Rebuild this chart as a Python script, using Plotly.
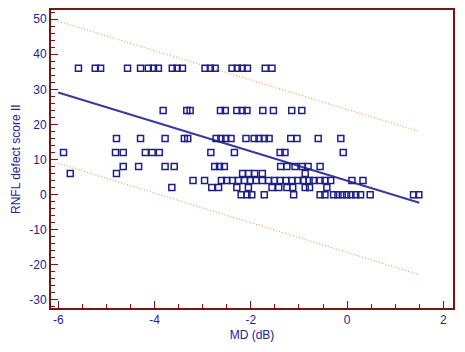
import plotly.graph_objects as go

# Data rows (RNFL defect score levels) with MD values
md_36 = [-5.58, -5.23, -5.12, -4.56, -4.29, -4.13, -4.02, -3.92, -3.63, -3.53, -3.42,
         -2.95, -2.84, -2.74, -2.39, -2.28, -2.18, -2.07, -1.70, -1.56]
md_24 = [-3.82, -3.33, -3.26, -2.63, -2.53, -2.29, -2.18, -2.08, -1.75, -1.53, -1.15, -0.94]
md_16 = [-4.79, -4.29, -3.78, -3.38, -3.31, -2.72, -2.62, -2.52, -2.41, -2.10, -1.93,
         -1.83, -1.72, -1.62, -1.17, -1.04, -0.60, -0.13]
md_12 = [-5.89, -4.81, -4.65, -4.19, -4.05, -3.90, -2.83, -2.34, -1.39, -1.29, -0.08]
md_8 = [-4.65, -4.33, -3.78, -3.59, -2.75, -2.65, -2.55, -1.38, -1.25, -1.08, -0.93, -0.81, -0.56]
md_6 = [-5.75, -4.79, -2.17, -2.05, -1.92, -1.76, -0.87]
md_4 = [-3.20, -2.96, -2.61, -2.50, -2.38, -2.26, -2.13, -2.01, -1.89, -1.76, -1.63, -1.51,
        -1.39, -1.27, -1.15, -1.02, -0.91, -0.79, -0.70, -0.56, -0.46, -0.34, 0.10, 0.33]
md_2 = [-3.64, -2.81, -2.67, -2.29, -2.05, -1.56, -1.42, -1.25, -1.13, -0.87, -0.78, -0.42]
md_0 = [-2.20, -2.08, -1.98, -1.72, -1.11, -0.56, -0.46, -0.28, -0.19, -0.10, -0.01, 0.08,
        0.18, 0.28, 0.48, 1.38, 1.49]

rows = [(36, md_36), (24, md_24), (16, md_16), (12, md_12), (8, md_8),
        (6, md_6), (4, md_4), (2, md_2), (0, md_0)]

# Regression line and prediction bounds
reg_x = [-6.0, 1.5]
reg_y = [29.1, -2.3]
upper_y = [49.4, 18.0]
lower_y = [8.9, -22.8]

x_tickvals = [-6, -4, -2, 0, 2]
x_ticktext = ["-6", "-4", "-2", "0", "2"]
y_tickvals = [-30, -20, -10, 0, 10, 20, 30, 40, 50]
y_ticktext = ["-30", "-20", "-10", "0", "10", "20", "30", "40", "50"]

xs, ys = [], []
for score, mds in rows:
    xs += mds
    ys += [score] * len(mds)

NAVY = "#1f1f85"
MAROON = "#7a1515"
TICKFONT = dict(family="Liberation Sans, Arial, sans-serif", size=12, color="#23238f")

fig = go.Figure()
fig.add_trace(go.Scatter(x=reg_x, y=upper_y, mode="lines",
                         line=dict(color="#f0a05a", width=1.2, dash="1px,2px"), hoverinfo="skip"))
fig.add_trace(go.Scatter(x=reg_x, y=lower_y, mode="lines",
                         line=dict(color="#f0a05a", width=1.2, dash="1px,2px"), hoverinfo="skip"))
fig.add_trace(go.Scatter(x=reg_x, y=reg_y, mode="lines",
                         line=dict(color="#3a3a9a", width=2)))
fig.add_trace(go.Scatter(x=xs, y=ys, mode="markers",
                         marker=dict(symbol="square-open", size=6, color=NAVY,
                                     line=dict(width=1.5, color=NAVY))))

fig.update_layout(
    width=457, height=344,
    margin=dict(l=43, r=12, t=2, b=44, autoexpand=False),
    paper_bgcolor="white", plot_bgcolor="white",
    showlegend=False,
    xaxis=dict(range=[-6.15, 2.2], tickvals=x_tickvals, ticktext=x_ticktext,
               ticks="inside", ticklen=7,
               tickwidth=1.2, tickcolor=MAROON, showline=True, linecolor=MAROON,
               linewidth=2, mirror=True, showgrid=False, zeroline=False,
               tickfont=TICKFONT, automargin=False,
               minor=dict(dtick=0.5, ticks="inside", ticklen=4, tickcolor=MAROON, tickwidth=1.2),
               title=dict(text="MD (dB)", font=TICKFONT, standoff=4)),
    yaxis=dict(range=[-32.3, 52.6], tickvals=y_tickvals, ticktext=y_ticktext,
               ticks="inside", ticklen=7,
               tickwidth=1.2, tickcolor=MAROON, showline=True, linecolor=MAROON,
               linewidth=2, mirror=True, showgrid=False, zeroline=False,
               tickfont=TICKFONT, automargin=False,
               minor=dict(dtick=2, ticks="inside", ticklen=4, tickcolor=MAROON, tickwidth=1.2)),
    annotations=[dict(text="RNFL defect score II", xref="paper", yref="paper",
                      x=-0.087, y=0.5, xanchor="center", yanchor="middle",
                      textangle=-90, showarrow=False, font=TICKFONT)],
)

fig.write_html("out.html")
